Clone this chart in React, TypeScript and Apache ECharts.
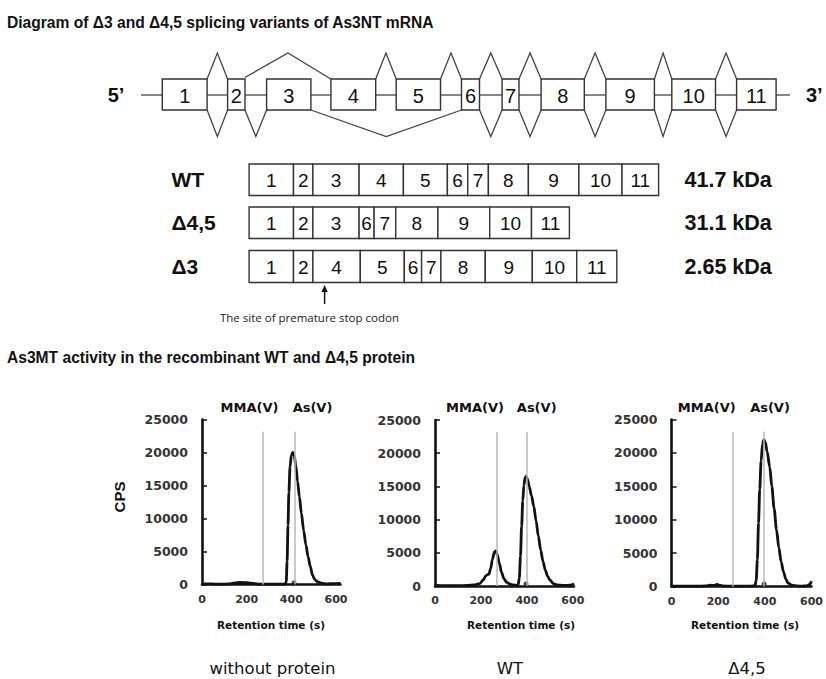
import React, { useEffect, useRef } from "react";
import * as echarts from "echarts";

// ---------- Top diagram: gene structure (positions along the diagram axis) ----------
const geneExonLabels = ["1", "2", "3", "4", "5", "6", "7", "8", "9", "10", "11"];
const geneExonStarts = [162.3, 227.6, 266.6, 330.9, 396.2, 461.5, 502.1, 541.1, 605.9, 671.8, 736.6];
const geneExonEnds = [207.1, 245.0, 310.9, 375.7, 440.5, 479.5, 519.0, 584.3, 654.4, 715.5, 776.1];
const upperIntronGaps = [0, 3, 4, 5, 6, 7, 8, 9];
const lowerIntronGaps = [0, 1, 5, 6, 7, 8, 9];
const upperSplice = [1, 3]; // exon 2 -> exon 4 (skips exon 3)
const lowerSplice = [2, 5]; // exon 3 -> exon 6 (skips exons 4,5)

// ---------- Transcript variants ----------
const transcriptNames = ["WT", "Δ4,5", "Δ3"];
const transcriptMass = ["41.7 kDa", "31.1 kDa", "2.65 kDa"];
const wtExons = ["1", "2", "3", "4", "5", "6", "7", "8", "9", "10", "11"];
const wtBounds = [249.1, 293.5, 312.9, 359.1, 403.4, 447.4, 467.7, 488.4, 528.4, 578.9, 622.0, 658.6];
const d45Exons = ["1", "2", "3", "6", "7", "8", "9", "10", "11"];
const d45Bounds = [249.1, 293.5, 312.9, 359.1, 374.1, 395.7, 437.9, 489.7, 531.5, 569.4];
const d3Exons = ["1", "2", "4", "5", "6", "7", "8", "9", "10", "11"];
const d3Bounds = [249.1, 293.5, 312.9, 360.3, 404.3, 421.6, 440.9, 485.3, 532.3, 576.7, 616.8];
const stopCodonPos = 324.6;

// ---------- Chromatograms (retention time s, CPS) ----------
const timeNoProtein = [0, 40, 80, 120, 150, 170, 200, 230, 260, 300, 340, 372, 377, 381, 385, 389, 394, 400, 407, 413, 420, 428, 436, 445, 455, 465, 475, 485, 495, 505, 518, 535, 560, 590, 620];
const cpsNoProtein = [100, 80, 60, 80, 250, 300, 280, 150, 60, 50, 50, 50, 400, 3500, 9000, 14000, 17800, 19600, 20000, 19500, 18000, 15600, 13300, 10800, 8200, 6000, 4200, 2700, 1400, 750, 400, 200, 100, 120, 150];

const timeWT = [0, 50, 100, 140, 170, 195, 210, 220, 228, 235, 242, 250, 258, 265, 272, 280, 290, 300, 312, 325, 340, 355, 362, 367, 372, 377, 382, 387, 392, 397, 403, 410, 420, 430, 440, 450, 460, 470, 480, 490, 500, 515, 530, 560, 590, 605];
const cpsWT = [100, 60, 50, 80, 150, 350, 900, 1500, 1700, 1800, 2600, 4000, 5100, 5300, 4600, 3400, 2000, 1100, 550, 300, 150, 100, 200, 1200, 4500, 9000, 12800, 15200, 16300, 16500, 16000, 15000, 13600, 12000, 9800, 7500, 5400, 3700, 2400, 1500, 900, 350, 150, 80, 120, 350];

const timeD45 = [0, 50, 100, 150, 165, 180, 195, 205, 220, 260, 300, 340, 358, 363, 368, 373, 378, 384, 390, 396, 402, 410, 421, 430, 440, 450, 460, 470, 480, 490, 500, 515, 540, 560, 580, 592, 600];
const cpsD45 = [50, 50, 50, 80, 200, 150, 300, 200, 80, 50, 50, 50, 100, 900, 4000, 9500, 14500, 18800, 21300, 22000, 21600, 20200, 17900, 15000, 11600, 8500, 5800, 3700, 2200, 1100, 500, 200, 80, 50, 100, 300, 800];

const mmaLine = [272, 268, 264];
const asLine = [413, 399, 397];
const refLineTop = 23150;
const baselineDot = [[412, 250], [396, 300], [397, 400]];
const panelTitles = ["without protein", "WT", "Δ4,5"];
const yTicks = [0, 25000, 5000];
const xTicks = [0, 200];

// ---------- layout ----------
const chartLeft = [202, 435, 671.5];
const chartWidth = [138.5, 139, 140];
const chartTop = [419.5, 420, 419.5];
const chartHeight = [165, 166, 167];
const chartXMax = [620, 605, 600];
const labelFont = '"DejaVu Sans", Verdana, sans-serif';
const arial = '"Liberation Sans", Arial, sans-serif';

function zip(a: number[], b: number[]) {
  return a.map((t, i) => [t, b[i]]);
}

function renderDiagram(params: any, api: any) {
  const c = (x: number, y: number) => api.coord([x, y]);
  const ch: any[] = [];
  const gTop = 79, gBot = 110, gMid = 95, tipUp = 53, tipDown = 136.5;
  const lineStyle = { stroke: "#444", lineWidth: 1.3, fill: "none" };
  const line = (x1: number, y1: number, x2: number, y2: number, st: any = lineStyle) => {
    const p1 = c(x1, y1), p2 = c(x2, y2);
    ch.push({ type: "line", shape: { x1: p1[0], y1: p1[1], x2: p2[0], y2: p2[1] }, style: st });
  };
  const poly = (pts: number[][]) => {
    ch.push({ type: "polyline", shape: { points: pts.map((p) => c(p[0], p[1])) }, style: lineStyle });
  };
  const text = (s: string, x: number, y: number, font: string, align = "center", fill = "#111") => {
    const p = c(x, y);
    ch.push({ type: "text", style: { text: s, x: p[0], y: p[1], font, textAlign: align, textVerticalAlign: "middle", fill } });
  };
  const box = (x0: number, x1: number, y0: number, y1: number) => {
    const p0 = c(x0, y0), p1 = c(x1, y1);
    ch.push({ type: "rect", shape: { x: p0[0], y: p0[1], width: p1[0] - p0[0], height: p1[1] - p0[1] }, style: { fill: "#fff", stroke: "#333", lineWidth: 1.4 } });
  };

  // gene structure
  line(141, gMid, geneExonStarts[0], gMid);
  for (let i = 0; i < geneExonStarts.length - 1; i++) line(geneExonEnds[i], gMid, geneExonStarts[i + 1], gMid);
  line(geneExonEnds[geneExonEnds.length - 1], gMid, 790, gMid);
  upperIntronGaps.forEach((g) => poly([[geneExonEnds[g], gTop], [(geneExonEnds[g] + geneExonStarts[g + 1]) / 2, tipUp], [geneExonStarts[g + 1], gTop]]));
  lowerIntronGaps.forEach((g) => poly([[geneExonEnds[g], gBot], [(geneExonEnds[g] + geneExonStarts[g + 1]) / 2, tipDown], [geneExonStarts[g + 1], gBot]]));
  {
    const a = geneExonEnds[upperSplice[0]], b = geneExonStarts[upperSplice[1]];
    poly([[a, gTop - 1.5], [(a + b) / 2, tipUp], [b, gTop]]);
    const a2 = geneExonEnds[lowerSplice[0]], b2 = geneExonStarts[lowerSplice[1]];
    poly([[a2, gBot], [(a2 + b2) / 2, tipDown], [b2, gBot]]);
  }
  geneExonLabels.forEach((lab, i) => {
    box(geneExonStarts[i], geneExonEnds[i], gTop, gBot);
    text(lab, (geneExonStarts[i] + geneExonEnds[i]) / 2, gMid + 1, `20px ${arial}`);
  });
  text("5’", 116, gMid, `bold 20px ${arial}`);
  text("3’", 806, gMid, `bold 20px ${arial}`, "left");

  // transcripts
  const rows = [
    { ex: wtExons, b: wtBounds, y0: 164, y1: 195.5 },
    { ex: d45Exons, b: d45Bounds, y0: 207, y1: 238.5 },
    { ex: d3Exons, b: d3Bounds, y0: 250.5, y1: 282.5 },
  ];
  rows.forEach((r, ri) => {
    r.ex.forEach((lab, i) => {
      box(r.b[i], r.b[i + 1], r.y0, r.y1);
      text(lab, (r.b[i] + r.b[i + 1]) / 2, (r.y0 + r.y1) / 2 + 1, `19px ${arial}`);
    });
    const ym = (r.y0 + r.y1) / 2;
    text(transcriptNames[ri], 171.5, ym, `bold 21px ${arial}`, "left");
    text(transcriptMass[ri], 684.5, ym, `bold 21.5px ${arial}`, "left");
  });

  // premature stop codon arrow
  line(stopCodonPos, 304, stopCodonPos, 289, { stroke: "#111", lineWidth: 1.5, fill: "none" });
  ch.push({
    type: "polygon",
    shape: { points: [c(stopCodonPos - 3.2, 292), c(stopCodonPos, 285), c(stopCodonPos + 3.2, 292)] },
    style: { fill: "#111" },
  });
  text("The site of premature stop codon", 309.5, 317, `11.5px "Open Sans", sans-serif`, "center", "#222");

  return { type: "group", children: ch };
}

export default function App() {
  const ref = useRef<HTMLDivElement>(null);
  useEffect(() => {
    const chart = echarts.init(ref.current!, null, { renderer: "svg" });
    const series: any[] = [
      {
        type: "custom",
        xAxisIndex: 0,
        yAxisIndex: 0,
        data: [[0, 0]],
        renderItem: renderDiagram,
        silent: true,
        clip: false,
      },
    ];
    const datasets = [zip(timeNoProtein, cpsNoProtein), zip(timeWT, cpsWT), zip(timeD45, cpsD45)];
    const grids: any[] = [{ left: 0, top: 0, width: 826, height: 679 }];
    const xAxes: any[] = [{ gridIndex: 0, type: "value", min: 0, max: 826, show: false }];
    const yAxes: any[] = [{ gridIndex: 0, type: "value", min: 0, max: 679, inverse: true, show: false }];
    for (let i = 0; i < 3; i++) {
      grids.push({ left: chartLeft[i], top: chartTop[i], width: chartWidth[i], height: chartHeight[i] });
      xAxes.push({
        gridIndex: i + 1,
        type: "value",
        min: xTicks[0],
        max: chartXMax[i],
        interval: xTicks[1],
        splitLine: { show: false },
        axisTick: { show: false },
        axisLine: { show: true, lineStyle: { color: "#111", width: 2.6 } },
        axisLabel: {
          margin: 9,
          color: "#333",
          fontFamily: labelFont,
          fontWeight: "bold",
          fontSize: 11,
          formatter: (v: number) => (v % xTicks[1] === 0 && v <= 600 ? String(v) : ""),
        },
      });
      yAxes.push({
        gridIndex: i + 1,
        type: "value",
        min: yTicks[0],
        max: yTicks[1],
        interval: yTicks[2],
        splitLine: { show: false },
        axisLine: { show: true, lineStyle: { color: "#111", width: 2.6 } },
        axisTick: { show: true, inside: true, length: 5, lineStyle: { color: "#111", width: 1.5 } },
        axisLabel: {
          margin: 14,
          color: "#333",
          fontFamily: labelFont,
          fontWeight: "bold",
          fontSize: 12.5,
          formatter: (v: number) => String(v),
        },
      });
      series.push({
        type: "line",
        xAxisIndex: i + 1,
        yAxisIndex: i + 1,
        data: datasets[i],
        showSymbol: false,
        smooth: 0.3,
        smoothMonotone: "x",
        lineStyle: { color: "#111", width: 2.8 },
        z: 3,
        markLine: {
          silent: true,
          symbol: ["none", "none"],
          label: { show: false },
          lineStyle: { color: "#b8b8b8", width: 1.5, type: "solid" },
          data: [
            [{ coord: [mmaLine[i], 0] }, { coord: [mmaLine[i], refLineTop] }],
            [{ coord: [asLine[i], 0] }, { coord: [asLine[i], refLineTop] }],
          ],
        },
      });
      series.push({
        type: "scatter",
        xAxisIndex: i + 1,
        yAxisIndex: i + 1,
        data: [baselineDot[i]],
        symbolSize: 5,
        itemStyle: { color: "#111" },
        z: 4,
      });
    }

    const t = (text: string, x: number, y: number, font: string, align = "center", extra: any = {}) => ({
      type: "text",
      x,
      y,
      ...extra,
      style: { text, x: 0, y: 0, font, textAlign: align, textVerticalAlign: "middle", fill: "#111" },
      silent: true,
    });
    const mmaX = [249.5, 475, 706.7];
    const asX = [312.5, 536.7, 770];
    const retX = [271, 521, 745];
    const panelX = [272.5, 510, 747];
    const graphic: any[] = [
      t("Diagram of Δ3 and Δ4,5 splicing variants of As3NT mRNA", 7, 22, `bold 15.6px ${arial}`, "left"),
      t("As3MT activity in the recombinant WT and Δ4,5 protein", 7, 357, `bold 15.6px ${arial}`, "left"),
      t("CPS", 119.5, 497, `bold 15px ${arial}`, "center", { rotation: Math.PI / 2 }),
    ];
    for (let i = 0; i < 3; i++) {
      graphic.push(t("MMA(V)", mmaX[i], 407, `bold 13px ${labelFont}`));
      graphic.push(t("As(V)", asX[i], 407, `bold 13px ${labelFont}`));
      graphic.push(t("Retention time (s)", retX[i], 625, `bold 10.5px ${labelFont}`));
      graphic.push(t(panelTitles[i], panelX[i], 668, `16.5px ${labelFont}`));
    }

    chart.setOption({
      animation: false,
      backgroundColor: "#fff",
      grid: grids,
      xAxis: xAxes,
      yAxis: yAxes,
      series,
      graphic,
    });
    return () => chart.dispose();
  }, []);
  return (
    <div
      ref={ref}
      style={{ position: "fixed", left: 0, top: 0, width: 826, height: 679, background: "#fff" }}
    />
  );
}
